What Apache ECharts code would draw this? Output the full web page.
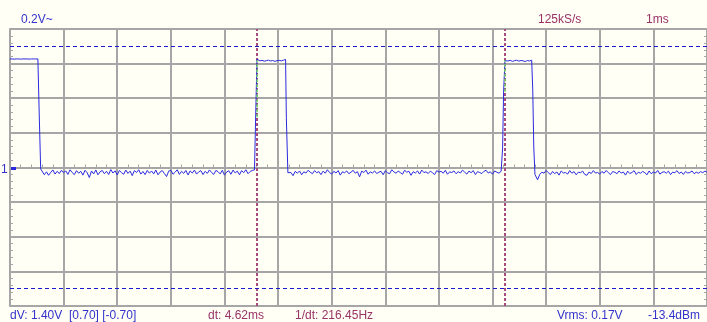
<!DOCTYPE html>
<html><head><meta charset="utf-8">
<script src="https://cdn.jsdelivr.net/npm/echarts@6/dist/echarts.min.js"></script>
<style>html,body{margin:0;padding:0;background:#fffff5;}#c{width:707px;height:322px;}</style>
</head><body><div id="c"></div>
<script>
// ---- data (time in ms, voltage in mV) ----
const sampleStepMs = 0.04;
const yTicksV = [-0.8,-0.6,-0.4,-0.2,0,0.2,0.4,0.6,0.8];
const cursorTimesMs = [4.61, 9.23];
const cursorLevelsV = [0.70, -0.70];

const high1Start = 0.0;
const high1mV = [627,627,626,627,627,626,627,627,627,626,627,627,627,627];
const fall1 = [[0.546,627],[0.546,298],[0.572,298],[0.572,-8]];
const low1Start = 0.60;
const low1mV = [
-15,-42,-25,-45,-28,-14,-38,-22,-35,-16,
-30,-20,-40,-13,-29,-41,-18,-33,-22,-44,
-16,-31,-58,-20,-37,-14,-42,-25,-17,-36,
-22,-40,-12,-32,-19,-43,-17,-30,-39,-15,
-34,-21,-47,-18,-29,-13,-38,-23,-41,-17,
-33,-20,-37,-15,-42,-26,-18,-35,-52,-21,
-16,-39,-27,-13,-40,-22,-34,-17,-43,-20,
-32,-15,-38,-25,-18,-41,-22,-34,-14,-29,
-40,-17,-24,-37,-16,-44,-26,-19,-39,-15,
-31,-21,-42,-18,-30,-13,-36,-23,-17,-14];
const rise2 = [[4.582,-25],[4.582,298],[4.607,298],[4.607,626]];
const high2Start = 4.62;
const high2mV = [622,616,619,614,617,620,615,618,613,617,619,616,620,624];
const fall2 = [[5.154,624],[5.154,290],[5.183,290],[5.183,-30]];
const low2Start = 5.20;
const low2mV = [
-39,-29,-47,-22,-33,-20,-42,-25,-32,-16,
-27,-36,-18,-30,-24,-41,-21,-33,-13,-29,
-38,-22,-32,-18,-44,-25,-30,-20,-36,-27,
-16,-33,-24,-54,-21,-29,-15,-39,-25,-32,
-20,-35,-27,-22,-42,-18,-30,-36,-13,-25,
-33,-21,-29,-39,-16,-27,-22,-45,-24,-32,
-20,-38,-15,-29,-25,-35,-21,-30,-41,-18,
-27,-22,-33,-16,-39,-25,-29,-20,-36,-24,
-32,-15,-27,-38,-21,-30,-18,-41,-24,-29,
-35,-22,-16,-32,-25,-39,-20,-27,-33,-22];
const rise3 = [[9.188,-25],[9.188,112],[9.206,112],[9.206,437],[9.232,437],[9.232,618]];
const high3Start = 9.25;
const high3mV = [618,615,619,613,617,620,614,618,616,612,618,615,620];
const fall3 = [[9.750,620],[9.750,447],[9.769,447],[9.769,119],[9.791,119],[9.791,-40]];
const low3Start = 9.80;
const low3mV = [
-49,-71,-40,-27,-33,-17,-30,-41,-23,-35,
-26,-44,-20,-32,-29,-38,-18,-33,-24,-42,
-27,-30,-21,-40,-45,-26,-35,-18,-32,-29,
-38,-23,-33,-17,-30,-41,-24,-27,-36,-20,
-32,-26,-44,-21,-35,-29,-18,-40,-27,-33,
-23,-30,-42,-20,-36,-26,-32,-17,-38,-29,
-24,-33,-21,-41,-27,-30,-18,-35,-26,-40,
-23,-32,-29,-20,-36,-27,-33,-24,-30,-21,
-27];
const greenSeg1 = [[4.61,290],[4.61,620]];
const greenSeg2 = [[9.232,437],[9.232,620]];

// ---- build ----
const sampled = (start, arr) => arr.map((v,i)=>[+(start+i*sampleStepMs).toFixed(3), v/1000]);
const pts = arr => arr.map(p=>[p[0], p[1]/1000]);
const signal = [].concat(
  sampled(high1Start, high1mV), pts(fall1), sampled(low1Start, low1mV), pts(rise2),
  sampled(high2Start, high2mV), pts(fall2), sampled(low2Start, low2mV), pts(rise3),
  sampled(high3Start, high3mV), pts(fall3), sampled(low3Start, low3mV)
);

const BLUE = '#3333cc', MAROON = '#993366', GRID = '#a6a6a6';
const FONT = '12px "Liberation Sans", Arial, sans-serif';
const chart = echarts.init(document.getElementById('c'), null, {renderer:'canvas'});
const yAxisBase = {
  type:'value', min:yTicksV[0], max:yTicksV[yTicksV.length-1], interval:0.2,
  axisLabel:{show:false},
  axisLine:{show:true, onZero:false, lineStyle:{color:GRID, width:2}},
  axisTick:{show:true, inside:true, length:3, lineStyle:{color:GRID}},
  minorTick:{show:true, splitNumber:5, length:3, lineStyle:{color:GRID}},
  splitLine:{show:true, lineStyle:{color:GRID, width:2}}
};
chart.setOption({
  animation:false,
  backgroundColor:'#fffff5',
  grid:{left:10, top:29, width:698, height:277, containLabel:false},
  xAxis:[{
    type:'value', min:0, max:13, interval:1,
    axisLabel:{show:false},
    axisLine:{show:true, onZero:true, lineStyle:{color:GRID, width:2}},
    axisTick:{show:true, inside:true, length:3, lineStyle:{color:GRID}},
    minorTick:{show:true, splitNumber:5, length:3, lineStyle:{color:GRID}},
    splitLine:{show:true, lineStyle:{color:GRID, width:2}}
  }],
  yAxis:[Object.assign({}, yAxisBase, {position:'left'}), Object.assign({}, yAxisBase, {position:'right', splitLine:{show:false}})],
  series:[
    {type:'line', data:[], yAxisIndex:0, silent:true,
     markLine:{symbol:'none', silent:true, label:{show:false},
       data:[
         {xAxis:cursorTimesMs[0], lineStyle:{color:'#a64d7d', width:2, type:[3,2]}},
         {xAxis:cursorTimesMs[1], lineStyle:{color:'#a64d7d', width:2, type:[3,2]}},
         {yAxis:cursorLevelsV[0], lineStyle:{color:'#1a1acc', width:1, type:[4,3]}},
         {yAxis:cursorLevelsV[1], lineStyle:{color:'#1a1acc', width:1, type:[4,3]}}
       ]}},
    {type:'line', data:signal, showSymbol:false, symbol:'none', silent:true,
     lineStyle:{color:'#2a2ae0', width:1}, z:5},
    {type:'line', data:pts(greenSeg1), showSymbol:false, symbol:'none', silent:true,
     lineStyle:{color:'#77dd66', width:1.5, type:[3,2]}, z:6},
    {type:'line', data:pts(greenSeg2), showSymbol:false, symbol:'none', silent:true,
     lineStyle:{color:'#77dd66', width:1.5, type:[3,2]}, z:6}
  ],
  graphic:[
    {type:'text', left:21, top:14, style:{text:'0.2V~', fill:BLUE, font:FONT}},
    {type:'text', left:538, top:14, style:{text:'125kS/s', fill:MAROON, font:FONT}},
    {type:'text', left:646, top:14, style:{text:'1ms', fill:MAROON, font:FONT}},
    {type:'text', left:10, top:310, style:{text:'dV: 1.40V  [0.70] [-0.70]', fill:BLUE, font:FONT}},
    {type:'text', left:208, top:310, style:{text:'dt: 4.62ms', fill:MAROON, font:FONT}},
    {type:'text', left:295, top:310, style:{text:'1/dt: 216.45Hz', fill:MAROON, font:FONT}},
    {type:'text', left:557, top:310, style:{text:'Vrms: 0.17V', fill:BLUE, font:FONT}},
    {type:'text', left:648, top:310, style:{text:'-13.4dBm', fill:BLUE, font:FONT}},
    {type:'text', left:1, top:164, style:{text:'1', fill:BLUE, font:FONT}},
    {type:'rect', left:11, top:167, shape:{width:5, height:3}, style:{fill:'#2a2ae0'}, z:10}
  ]
});
</script></body></html>
